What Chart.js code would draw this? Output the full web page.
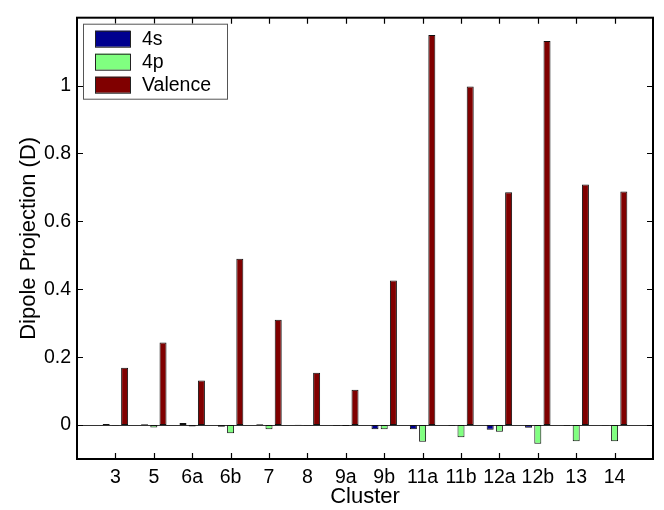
<!DOCTYPE html>
<html><head><meta charset="utf-8">
<script src="https://cdn.jsdelivr.net/npm/chart.js@4.4.1/dist/chart.umd.min.js"></script>
<style>html,body{margin:0;padding:0;background:#fff;}#wrap{width:664px;height:510px;}</style>
</head><body><div id="wrap"><canvas id="c" width="664" height="510"></canvas></div>
<script>
const clusters = ['3','5','6a','6b','7','8','9a','9b','11a','11b','12a','12b','13','14'];
const s4 = [0.003, 0.002, 0.006, -0.005, 0.002, 0.001, -0.002, -0.012, -0.012, -0.002, -0.014, -0.008, -0.002, -0.001];
const p4 = [-0.001, -0.007, -0.004, -0.024, -0.012, -0.001, -0.003, -0.012, -0.049, -0.036, -0.020, -0.055, -0.048, -0.048];
const valence = [0.169, 0.243, 0.131, 0.490, 0.310, 0.154, 0.104, 0.426, 1.149, 0.997, 0.686, 1.131, 0.709, 0.688];
const yTicks = [0, 0.2, 0.4, 0.6, 0.8, 1];
const seriesNames = ['4s', '4p', 'Valence'];
const seriesColors = ['#00008F', '#80FF80', '#800000'];

const FONT = "'Liberation Sans', Arial, Helvetica, sans-serif";
const labels = ['', ...clusters, ''];
const pad = arr => [null, ...arr, null];

const framePlugin = {
  id: 'frame',
  beforeDatasetsDraw(chart) {
    const {ctx, chartArea: a, scales: {y}} = chart;
    const y0 = Math.round(y.getPixelForValue(0)) + 0.5;
    ctx.save();
    ctx.strokeStyle = '#333';
    ctx.lineWidth = 1;
    ctx.beginPath(); ctx.moveTo(a.left, y0); ctx.lineTo(a.right, y0); ctx.stroke();
    ctx.restore();
  },
  afterDraw(chart) {
    const {ctx, chartArea: a, scales: {x, y}} = chart;
    ctx.save();
    ctx.strokeStyle = '#000';
    ctx.lineWidth = 1.2;
    const tl = 6;
    ctx.beginPath();
    for (let i = 1; i <= clusters.length; i++) {
      const px = Math.round(x.getPixelForValue(i)) + 0.5;
      ctx.moveTo(px, a.bottom); ctx.lineTo(px, a.bottom - tl);
      ctx.moveTo(px, a.top); ctx.lineTo(px, a.top + tl);
    }
    yTicks.forEach(v => {
      const py = Math.round(y.getPixelForValue(v)) + 0.5;
      ctx.moveTo(a.left, py); ctx.lineTo(a.left + tl, py);
      ctx.moveTo(a.right, py); ctx.lineTo(a.right - tl, py);
    });
    ctx.stroke();
    ctx.lineWidth = 2;
    ctx.strokeRect(a.left, a.top, a.right - a.left, a.bottom - a.top);
    // legend
    const lx = a.left + 6, ly = a.top + 6, lw = 144, lh = 75;
    ctx.fillStyle = '#fff';
    ctx.fillRect(lx, ly, lw, lh);
    ctx.lineWidth = 1;
    ctx.strokeStyle = '#555';
    ctx.strokeRect(lx + 0.5, ly + 0.5, lw, lh);
    ctx.font = '19.5px ' + FONT;
    ctx.textBaseline = 'middle';
    ctx.textAlign = 'left';
    seriesNames.forEach((n, i) => {
      const sy = ly + 7 + i * 23;
      ctx.fillStyle = seriesColors[i];
      ctx.fillRect(lx + 12, sy, 35, 16);
      ctx.strokeStyle = '#222';
      ctx.strokeRect(lx + 12.5, sy + 0.5, 35, 16);
      ctx.fillStyle = '#000';
      ctx.fillText(n, lx + 59, sy + 9);
    });
    ctx.restore();
  }
};

new Chart(document.getElementById('c'), {
  type: 'bar',
  data: {
    labels: labels,
    datasets: [s4, p4, valence].map((d, i) => ({
      label: seriesNames[i],
      data: pad(d),
      backgroundColor: seriesColors[i],
      borderColor: '#111',
      borderWidth: 1,
      borderSkipped: false,
      categoryPercentage: 0.72,
      barPercentage: 0.76
    }))
  },
  options: {
    responsive: false,
    animation: false,
    devicePixelRatio: 1,
    layout: { padding: { top: 5, right: 11, left: 0, bottom: 0 } },
    plugins: { legend: { display: false }, tooltip: { enabled: false } },
    scales: {
      x: {
        type: 'category',
        offset: false,
        grid: { display: false, drawTicks: false },
        border: { display: false },
        ticks: {
          autoSkip: false, maxRotation: 0, minRotation: 0,
          color: '#000', padding: 7,
          font: { family: FONT, size: 19.5 }
        },
        title: {
          display: true, text: 'Cluster', color: '#000',
          font: { family: FONT, size: 22 }, padding: { top: 0, bottom: 0 }
        },
        afterFit(s) { s.height = 51; }
      },
      y: {
        min: -0.1, max: 1.2,
        grid: { display: false, drawTicks: false },
        border: { display: false },
        afterBuildTicks(s) { s.ticks = yTicks.map(v => ({ value: v })); },
        ticks: {
          color: '#000', padding: 6,
          font: { family: FONT, size: 19.5 },
          callback: v => String(Math.round(v * 10) / 10)
        },
        title: {
          display: true, text: 'Dipole Projection (D)', color: '#000',
          font: { family: FONT, size: 22 }, padding: { top: 16, bottom: 0 }
        },
        afterFit(s) { s.width = 77; }
      }
    }
  },
  plugins: [framePlugin]
});
</script>
</body></html>
